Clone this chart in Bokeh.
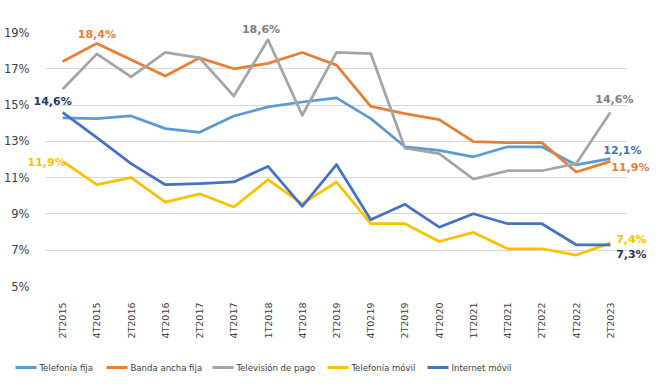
from bokeh.plotting import figure
from bokeh.models import Range1d, FixedTicker, PrintfTickFormatter, ColumnDataSource
from bokeh.core.properties import value
from bokeh.embed import file_html
from bokeh.resources import INLINE
import math

periods = ["2T2015", "4T2015", "2T2016", "4T2016", "2T2017", "4T2017", "1T2018", "4T2018",
           "2T2019", "4T0219", "2T2019", "4T2020", "1T2021", "4T2021", "2T2022", "4T2022", "2T2023"]

telefonia_fija = [14.3, 14.25, 14.4, 13.7, 13.5, 14.4, 14.9, 15.17, 15.4, 14.25, 12.7, 12.5, 12.15, 12.7, 12.7, 11.7, 12.05]
banda_ancha_fija = [17.4, 18.4, 17.5, 16.6, 17.6, 17.0, 17.3, 17.9, 17.2, 14.93, 14.53, 14.2, 12.98, 12.93, 12.93, 11.31, 11.9]
television_pago = [15.87, 17.82, 16.55, 17.9, 17.6, 15.5, 18.6, 14.44, 17.9, 17.84, 12.62, 12.32, 10.92, 11.38, 11.38, 11.77, 14.6]
telefonia_movil = [11.9, 10.61, 11.0, 9.65, 10.11, 9.38, 10.89, 9.56, 10.76, 8.46, 8.46, 7.48, 7.98, 7.08, 7.08, 6.73, 7.4]
internet_movil = [14.6, 13.2, 11.77, 10.61, 10.67, 10.76, 11.62, 9.42, 11.72, 8.68, 9.53, 8.27, 9.01, 8.46, 8.46, 7.3, 7.3]

series_names = ["Telefonía fija", "Banda ancha fija", "Televisión de pago", "Telefonía móvil", "Internet móvil"]
series_vals = [telefonia_fija, banda_ancha_fija, television_pago, telefonia_movil, internet_movil]
colors = ["#5B9BD5", "#ED7D31", "#A5A5A5", "#FFC000", "#4472C4"]

y_ticks = [5, 7, 9, 11, 13, 15, 17, 19]

W, H = 660, 384
FL, FR, FT, FB = 45, 627, 32, 286  # frame edges in page pixels
p = figure(width=W, height=H, output_backend="svg", toolbar_location=None,
           x_range=Range1d(-0.5, len(periods) - 0.5), y_range=Range1d(5, 19),
           min_border_left=FL, min_border_right=W - FR, min_border_top=FT, min_border_bottom=H - FB)
p.outline_line_color = None
p.background_fill_color = "white"
p.border_fill_color = "white"

xs = list(range(len(periods)))
renderers = []
for name, vals, c in zip(series_names, series_vals, colors):
    r = p.line(xs, vals, line_color=c, line_width=2.75, line_join="round")
    renderers.append(r)

# axes
p.xaxis.ticker = FixedTicker(ticks=xs)
p.xaxis.major_label_overrides = {i: lab for i, lab in enumerate(periods)}
p.xaxis.major_label_orientation = math.pi / 2
p.xaxis.major_label_text_font = "DejaVu Sans"
p.xaxis.major_label_text_font_size = "9.5px"
p.xaxis.major_label_text_color = "#404040"
p.xaxis.axis_line_color = None
p.xaxis.major_tick_line_color = None
p.xaxis.minor_tick_line_color = None
p.xaxis.major_label_standoff = 10

p.yaxis.ticker = FixedTicker(ticks=y_ticks)
p.yaxis.formatter = PrintfTickFormatter(format="%d%%")
p.yaxis.major_label_text_font = "DejaVu Sans"
p.yaxis.major_label_text_font_size = "11.5px"
p.yaxis.major_label_text_color = "#404040"
p.yaxis.axis_line_color = None
p.yaxis.major_tick_line_color = None
p.yaxis.minor_tick_line_color = None
p.yaxis.major_label_standoff = 10

p.xgrid.grid_line_color = None
p.ygrid.ticker = FixedTicker(ticks=y_ticks)
p.ygrid.grid_line_color = "#D9D9D9"
p.ygrid.grid_line_width = 1

# data labels
def fmt(v):
    return ("%.1f%%" % v).replace(".", ",")

last = len(periods) - 1
label_specs = [
    # (series index, point index, text color, x_offset, y_offset (screen, down +))
    (4, 0, "#203864", -10, -11),
    (1, 1, "#ED7D31", 0, -9),
    (2, 6, "#808080", -7, -10),
    (3, 0, "#FFC000", -16, 1),
    (2, last, "#808080", 4, -13),
    (0, last, "#4472C4", 12, -8),
    (1, last, "#ED7D31", 20, 6),
    (3, last, "#FFC000", 21, -3),
    (4, last, "#203864", 21, 10),
]
lab_src = ColumnDataSource(dict(
    x=[xs[pi_] for si, pi_, col, dx, dy in label_specs],
    y=[series_vals[si][pi_] for si, pi_, col, dx, dy in label_specs],
    text=[fmt(series_vals[si][pi_]) for si, pi_, col, dx, dy in label_specs],
    color=[col for si, pi_, col, dx, dy in label_specs],
    dx=[dx for si, pi_, col, dx, dy in label_specs],
    dy=[dy for si, pi_, col, dx, dy in label_specs],
))
p.text(x="x", y="y", text="text", source=lab_src, x_offset="dx", y_offset="dy",
       text_align="center", text_baseline="middle", text_color="color",
       text_font=value("DejaVu Sans"), text_font_style="bold", text_font_size="11px",
       level="overlay")

# legend strip below the axis (pixel-space ranges, drawn above the frame clip)
p.extra_x_ranges = {"px": Range1d(FL, FR)}
p.extra_y_ranges = {"px": Range1d(FB, FT)}
legend_x = [15, 106, 212, 327, 427]   # left edge of each legend entry (px)
legend_y = 367
key_len, key_gap = 21, 3
p.segment(x0=legend_x, x1=[x + key_len for x in legend_x], y0=[legend_y] * 5, y1=[legend_y] * 5,
          line_color=colors, line_width=3, x_range_name="px", y_range_name="px", level="overlay")
p.text(x=[x + key_len + key_gap for x in legend_x], y=[legend_y] * 5, text=series_names,
       text_align="left", text_baseline="middle", text_color="#404040",
       text_font=value("DejaVu Sans Condensed"), text_font_size="9.5px",
       x_range_name="px", y_range_name="px", level="overlay")

open("out.html", "w").write(file_html(p, INLINE))
